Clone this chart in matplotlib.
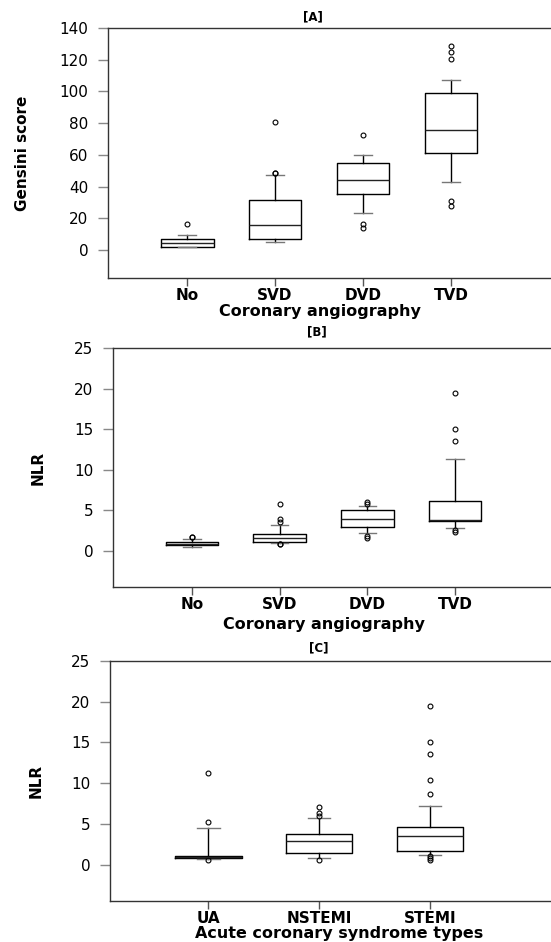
import matplotlib
matplotlib.use('Agg')
import matplotlib.pyplot as plt

plt.rcParams['font.family'] = ['DejaVu Sans']

W, H = 551, 942

# [A] Gensini score by coronary angiography
A_labels = ['No', 'SVD', 'DVD', 'TVD']
A_whislo = [1.9, 4.8, 23.0, 43.0]
A_q1 = [1.9, 7.0, 35.6, 61.0]
A_med = [4.6, 16.0, 43.9, 75.5]
A_q3 = [7.0, 31.8, 54.6, 98.9]
A_whishi = [9.7, 47.0, 59.9, 107.3]
A_fliers = [[16.4], [48.3, 48.7, 80.5], [14.0, 16.6, 72.5],
            [28.0, 30.6, 120.4, 124.6, 128.8]]
A_yticks = [0, 20, 40, 60, 80, 100, 120, 140]

# [B] NLR by coronary angiography
B_labels = ['No', 'SVD', 'DVD', 'TVD']
B_whislo = [0.5, 1.0, 2.18, 2.84]
B_q1 = [0.74, 1.1, 2.9, 3.66]
B_med = [0.92, 1.56, 4.0, 3.87]
B_q3 = [1.07, 2.1, 5.0, 6.2]
B_whishi = [1.44, 3.25, 5.55, 11.3]
B_fliers = [[1.68, 1.75], [0.85, 0.9, 3.55, 3.9, 5.8], [1.6, 1.9, 5.8, 6.1],
            [2.4, 2.6, 13.6, 15.1, 19.5]]
B_yticks = [0, 5, 10, 15, 20, 25]

# [C] NLR by acute coronary syndrome type
C_labels = ['UA', 'NSTEMI', 'STEMI']
C_whislo = [0.73, 0.82, 1.22]
C_q1 = [0.86, 1.5, 1.67]
C_med = [0.98, 2.98, 3.55]
C_q3 = [1.14, 3.83, 4.69]
C_whishi = [4.57, 5.7, 7.26]
C_fliers = [[0.62, 5.3, 11.25], [0.65, 6.0, 6.35, 7.1],
            [0.6, 0.85, 1.05, 8.7, 10.4, 13.6, 15.1, 19.5]]
C_yticks = [0, 5, 10, 15, 20, 25]


def fx(x):
    return x / W


def fy(y):
    return 1 - y / H


def panel(rect, labels, whislo, q1, med, q3, whishi, fliers, yticks,
          xlim, ylim, title, xlabel, ylabel, title_xy, xlabel_xy, ylabel_xy):
    l, t, r, b = rect
    ax = fig.add_axes([fx(l), fy(b), fx(r - l), fy(t) - fy(b)])
    stats = []
    for i in range(len(labels)):
        stats.append(dict(whislo=whislo[i], q1=q1[i], med=med[i], q3=q3[i],
                          whishi=whishi[i], fliers=fliers[i], label=labels[i]))
    pos = list(range(1, len(labels) + 1))
    ax.bxp(stats, positions=pos, widths=0.6, capwidths=0.2,
           boxprops=dict(color='black', linewidth=1),
           whiskerprops=dict(color='black', linewidth=1),
           capprops=dict(color='#777777', linewidth=1),
           medianprops=dict(color='#222222', linewidth=1),
           flierprops=dict(marker='o', markersize=3.5, markerfacecolor='none',
                           markeredgecolor='black', markeredgewidth=0.8))
    ax.set_xlim(*xlim)
    ax.set_ylim(*ylim)
    ax.set_yticks(yticks)
    ax.set_xticks(pos)
    ax.set_xticklabels(labels, fontsize=11, fontweight='bold')
    ax.tick_params(axis='y', labelsize=11, colors='#888888', labelcolor='black',
                   length=7, width=1, pad=7)
    ax.tick_params(axis='x', colors='#555555', labelcolor='black',
                   length=6, width=1, pad=1)
    ax.spines['right'].set_visible(False)
    for s in ['left', 'top', 'bottom']:
        ax.spines[s].set_color('#333333')
        ax.spines[s].set_linewidth(1)
    fig.text(fx(title_xy[0]), fy(title_xy[1]), title, ha='center', va='center',
             fontsize=8.5, fontweight='bold')
    fig.text(fx(xlabel_xy[0]), fy(xlabel_xy[1]), xlabel, ha='center', va='center',
             fontsize=11.5, fontweight='bold')
    fig.text(fx(ylabel_xy[0]), fy(ylabel_xy[1]), ylabel, ha='center', va='center',
             fontsize=11, fontweight='bold', rotation=90)
    return ax


fig = plt.figure(figsize=(W / 100, H / 100), dpi=100)
fig.patch.set_facecolor('white')

panel((108, 28, 552, 278), A_labels, A_whislo, A_q1, A_med, A_q3, A_whishi,
      A_fliers, A_yticks, (0.1, 5.15), (-17.7, 140), '[A]',
      'Coronary angiography', 'Gensini score', (313, 17), (320, 311.5), (23, 153))

panel((112.7, 348.3, 552, 587.3), B_labels, B_whislo, B_q1, B_med, B_q3, B_whishi,
      B_fliers, B_yticks, (0.097, 5.105), (-4.48, 25), '[B]',
      'Coronary angiography', 'NLR', (317, 332), (324, 625), (38, 468))

panel((110, 660.7, 552, 901), C_labels, C_whislo, C_q1, C_med, C_q3, C_whishi,
      C_fliers, C_yticks, (0.11, 4.104), (-4.4, 25), '[C]',
      'Acute coronary syndrome types', 'NLR', (319, 648), (339, 933.5), (36, 781))

plt.savefig('out.png', dpi=100, facecolor='white')
plt.close()
